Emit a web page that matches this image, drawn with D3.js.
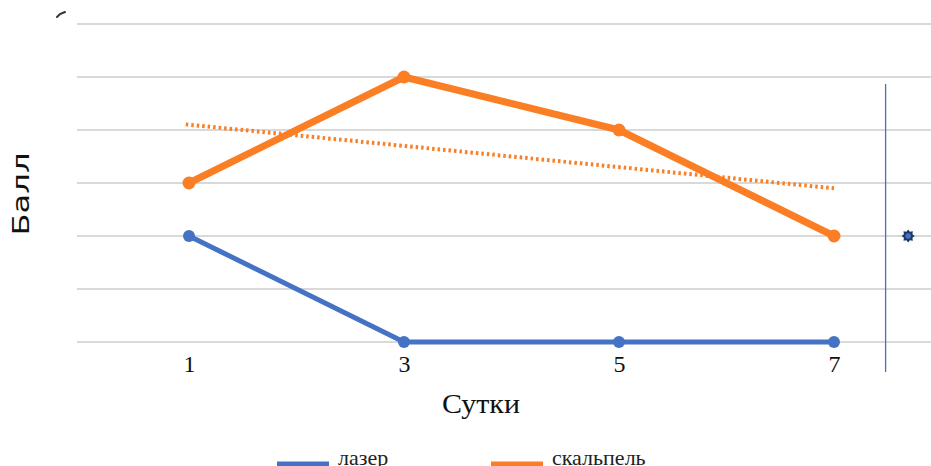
<!DOCTYPE html>
<html>
<head>
<meta charset="utf-8">
<script src="https://cdn.jsdelivr.net/npm/d3@7"></script>
<style>
  html, body { margin: 0; padding: 0; background: #fff; }
  svg { display: block; }
</style>
</head>
<body>
<svg id="chart" width="931" height="466"></svg>
<script>
// Days of observation and scores per method
const days = [1, 3, 5, 7];
const laser = [2, 0, 0, 0];
const scalpel = [3, 5, 4, 2];
const yTicks = [0, 1, 2, 3, 4, 5, 6];
const seriesNames = ["лазер", "скальпель"];
const seriesColors = ["#4472c4", "#fb7e24"];
// separate reference marker and divider on the right
const markerPoint = { day: 7.69, value: 2 };
const dividerDay = 7.48;

const svg = d3.select("#chart");
const x = d3.scaleLinear().domain([1, 7]).range([189, 834]);
const y = d3.scaleLinear().domain([0, 6]).range([342, 24]);

// horizontal gridlines
svg.append("g").selectAll("line").data(yTicks).join("line")
  .attr("x1", 77).attr("x2", 931)
  .attr("y1", d => y(d)).attr("y2", d => y(d))
  .attr("stroke", "#d9d9d9").attr("stroke-width", 2);

// x axis tick labels
const xAxis = d3.axisBottom(x).tickValues(days).tickFormat(d3.format("d")).tickSize(0).tickPadding(0);
const gx = svg.append("g").attr("transform", `translate(0,${y(0)})`).call(xAxis);
gx.select(".domain").remove();
gx.selectAll("text")
  .attr("y", 30).attr("dy", 0)
  .attr("font-family", "Liberation Serif, Times New Roman, serif")
  .attr("font-size", 24).attr("fill", "#111");

// linear trend for the scalpel series
const mx = d3.mean(days), my = d3.mean(scalpel);
const slope = d3.sum(days, (d, i) => (d - mx) * (scalpel[i] - my)) / d3.sum(days, d => (d - mx) ** 2);
const icpt = my - slope * mx;
const trendDays = [0.97, 7];
svg.append("line")
  .attr("x1", x(trendDays[0])).attr("y1", y(icpt + slope * trendDays[0]))
  .attr("x2", x(trendDays[1])).attr("y2", y(icpt + slope * trendDays[1]))
  .attr("stroke", seriesColors[1]).attr("stroke-width", 4)
  .attr("stroke-dasharray", "2.5,3");

// series lines and points
const line = d3.line().x((d, i) => x(days[i])).y(d => y(d));
[[laser, 0, 5, 6], [scalpel, 1, 7, 6.5]].forEach(([vals, k, w, r]) => {
  svg.append("path").datum(vals)
    .attr("d", line).attr("fill", "none")
    .attr("stroke", seriesColors[k]).attr("stroke-width", w)
    .attr("stroke-linejoin", "round");
  svg.append("g").selectAll("circle").data(vals).join("circle")
    .attr("cx", (d, i) => x(days[i])).attr("cy", d => y(d))
    .attr("r", r).attr("fill", seriesColors[k]);
});

// vertical divider
svg.append("line")
  .attr("x1", x(dividerDay)).attr("x2", x(dividerDay))
  .attr("y1", 84).attr("y2", 372)
  .attr("stroke", "#4472c4").attr("stroke-width", 1.3);

// eight-pointed star marker with a light centre
const mxp = x(markerPoint.day), myp = y(markerPoint.value);
const starPts = d3.range(16).map(i => {
  const a = i * Math.PI / 8 - Math.PI / 2;
  const r = i % 2 ? 4.6 : 6.6;
  return [mxp + r * Math.cos(a), myp + r * Math.sin(a)];
});
svg.append("path")
  .attr("d", d3.line().curve(d3.curveLinearClosed)(starPts))
  .attr("fill", "#1f3864");
svg.append("circle")
  .attr("cx", mxp).attr("cy", myp)
  .attr("r", 2.8).attr("fill", "#4472c4");

// axis titles
svg.append("text")
  .attr("x", 481).attr("y", 413).attr("text-anchor", "middle")
  .attr("font-family", "Liberation Serif, Times New Roman, serif")
  .attr("font-size", 28).attr("fill", "#111")
  .attr("textLength", 78).attr("lengthAdjust", "spacingAndGlyphs")
  .text("Сутки");
svg.append("text")
  .attr("transform", "translate(29,194) rotate(-90)")
  .attr("text-anchor", "middle")
  .attr("font-family", "DejaVu Sans, sans-serif")
  .attr("font-size", 23).attr("fill", "#111")
  .attr("textLength", 83).attr("lengthAdjust", "spacingAndGlyphs")
  .text("Балл");

// small stroke at the top-left corner
svg.append("path")
  .attr("d", d3.line()([[57, 17], [60, 14], [65, 12]]))
  .attr("fill", "none").attr("stroke", "#333").attr("stroke-width", 2)
  .attr("stroke-linecap", "round");

// legend
const legendX = [277, 491];
const lg = svg.append("g").selectAll("g").data(seriesNames).join("g")
  .attr("transform", (d, i) => `translate(${legendX[i]},464)`);
lg.append("line").attr("x1", 0).attr("x2", 52).attr("y1", 0).attr("y2", 0)
  .attr("stroke", (d, i) => seriesColors[i]).attr("stroke-width", 5);
lg.append("text").attr("x", 61).attr("y", 1)
  .attr("font-family", "Liberation Serif, Times New Roman, serif")
  .attr("font-size", 22).attr("fill", "#222")
  .text(d => d);
</script>
</body>
</html>
